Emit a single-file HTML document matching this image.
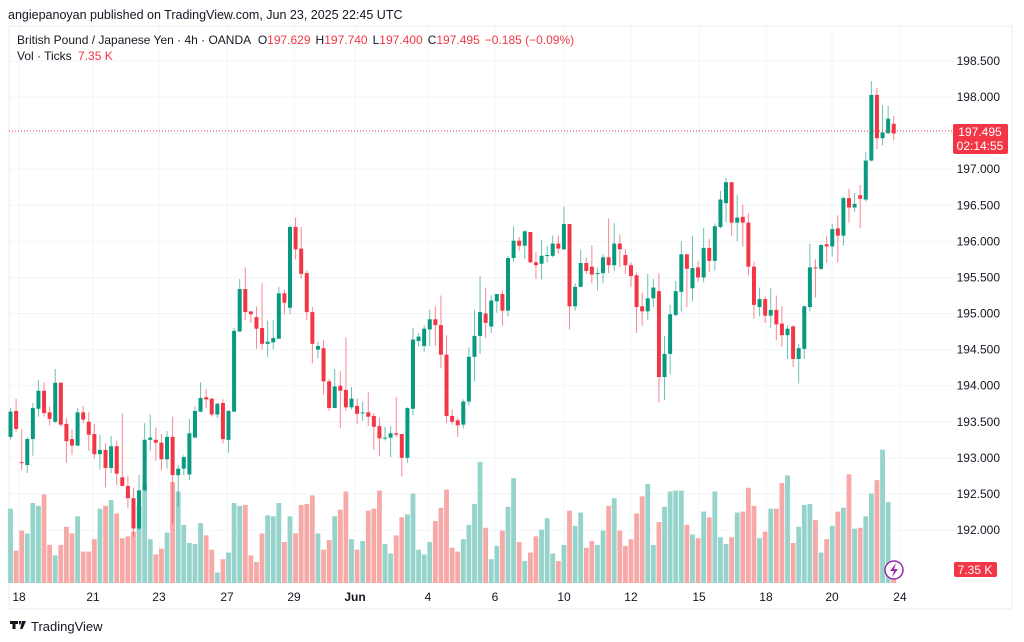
<!DOCTYPE html>
<html><head><meta charset="utf-8"><style>
html,body{margin:0;padding:0;background:#fff;width:1024px;height:642px;overflow:hidden;font-family:"Liberation Sans",sans-serif;}
svg text{font-family:"Liberation Sans",sans-serif;}
</style></head><body>
<svg id="c" width="1024" height="642" xmlns="http://www.w3.org/2000/svg">
<text x="8" y="19" font-size="12.5" fill="#131722">angiepanoyan published on TradingView.com, Jun 23, 2025 22:45 UTC</text>
<rect x="9" y="26" width="1003" height="583" fill="none" stroke="#e9ecf2"/>
<g id="grid"></g>
<g id="vols"></g>
<g id="candles"></g>
<line x1="9" y1="131" x2="953" y2="131" stroke="#f23645" stroke-dasharray="1,2"/>
<g id="paxis"></g>
<g id="taxis"></g>
<text x="17" y="44" font-size="12" fill="#131722">British Pound / Japanese Yen · 4h · OANDA <tspan dx="4">O</tspan><tspan fill="#f23645">197.629</tspan><tspan dx="5">H</tspan><tspan fill="#f23645">197.740</tspan><tspan dx="5">L</tspan><tspan fill="#f23645">197.400</tspan><tspan dx="5">C</tspan><tspan fill="#f23645">197.495</tspan><tspan dx="5" fill="#f23645">−0.185 (−0.09%)</tspan></text>
<text x="17" y="60" font-size="12" fill="#131722">Vol · Ticks <tspan dx="3" fill="#f23645">7.35 K</tspan></text>
<rect x="953" y="124" width="55" height="30" rx="2" fill="#f23645"/>
<text x="980" y="136" font-size="12" fill="#fff" text-anchor="middle">197.495</text>
<text x="980" y="150" font-size="12" fill="#fff" text-anchor="middle">02:14:55</text>
<rect x="954" y="562" width="43" height="15" rx="2" fill="#f23645"/>
<text x="975" y="574" font-size="12" fill="#fff" text-anchor="middle">7.35 K</text>
<g><circle cx="894" cy="570" r="9" fill="#fff" stroke="#9c27b0" stroke-width="1.5"/><path d="M896 563 L890 571 L894 571 L892 577 L898 569 L894 569 Z" fill="#9c27b0"/></g>
<g><path d="M10 621h8v3h-2.5v5h-3v-5H10z M19 621h2.5l-1.2 3.5h-1.3z M22 621h4l-3.5 8h-2.5z" fill="#131722"/><text x="31" y="631" font-size="13" fill="#131722">TradingView</text></g>
</svg>
<script>
const opens=[193.29,193.65,192.94,192.90,193.26,193.68,193.93,193.63,193.50,194.04,193.47,193.26,193.17,193.63,193.50,193.33,193.05,193.11,192.86,193.16,192.73,192.61,192.44,192.02,192.55,193.25,193.25,193.21,192.98,193.29,192.76,192.85,192.77,193.28,193.64,193.84,193.82,193.60,193.76,193.25,193.64,194.75,195.34,195.03,194.95,194.80,194.58,194.60,194.65,195.28,195.08,196.20,195.90,195.56,195.02,194.50,194.52,194.06,193.69,194.00,193.94,193.70,193.72,193.62,193.63,193.58,193.44,193.27,193.28,193.34,193.33,193.00,193.68,194.62,194.55,194.78,194.92,194.84,194.43,193.58,193.52,193.46,193.78,194.40,194.69,195.00,194.82,195.17,195.27,195.04,195.77,196.01,195.94,196.13,195.71,195.69,195.80,195.80,195.97,195.89,196.24,195.10,195.37,195.70,195.65,195.55,195.56,195.78,195.67,195.97,195.81,195.67,195.53,195.10,195.03,195.21,195.31,194.12,194.44,194.98,195.30,195.82,195.35,195.64,195.50,195.91,195.73,196.20,196.53,196.82,196.26,196.34,196.26,195.65,195.09,195.20,194.97,195.05,194.86,194.70,194.82,194.37,194.51,195.09,195.64,195.62,195.96,195.93,196.18,196.08,196.60,196.47,196.64,196.58,197.12,198.03,197.43,197.50,197.63];
const highs=[193.69,193.82,193.39,193.29,193.76,194.08,194.05,193.71,194.23,194.05,193.55,193.39,193.69,193.72,193.63,193.47,193.32,193.20,193.30,193.24,193.61,192.75,192.58,192.76,193.48,193.60,193.42,193.33,193.37,193.57,192.90,193.04,193.54,193.71,194.05,193.95,193.83,193.76,193.81,193.66,194.80,195.48,195.64,195.03,195.10,195.42,194.90,194.91,195.37,195.33,196.22,196.33,196.20,195.60,195.09,194.61,194.63,194.09,194.23,194.20,194.67,193.98,193.82,193.78,193.91,193.62,193.56,193.43,193.44,193.84,193.33,193.70,194.80,194.73,194.84,195.05,195.10,195.25,194.70,193.67,193.55,193.81,194.53,195.05,195.52,195.36,195.25,195.27,195.32,195.80,196.21,196.06,196.15,196.13,195.85,196.02,195.94,196.08,196.08,196.48,196.24,195.42,195.88,195.78,195.95,195.64,195.82,196.32,196.25,196.10,195.89,195.71,195.57,195.29,195.55,195.48,195.56,194.69,195.12,195.45,196.00,195.83,196.08,195.73,196.19,196.03,196.25,196.70,196.88,196.82,196.64,196.51,196.39,195.72,195.36,195.24,195.35,195.25,195.10,194.84,194.84,194.58,195.11,195.97,195.75,195.96,196.08,196.24,196.36,196.62,196.73,196.67,196.78,197.24,198.22,198.13,197.89,197.88,197.74];
const lows=[193.25,193.36,192.83,192.79,193.03,193.57,193.57,193.45,193.48,193.43,192.93,193.04,193.16,193.48,193.10,192.99,192.84,192.59,192.79,192.62,192.61,192.30,191.91,192.00,192.53,193.10,192.96,192.83,192.85,192.08,192.32,192.76,192.69,193.28,193.63,193.69,193.57,193.55,193.20,193.07,193.64,194.75,194.91,194.87,194.51,194.50,194.40,194.50,194.65,194.99,194.99,195.75,195.48,194.91,194.31,194.38,193.88,193.65,193.69,193.41,193.65,193.67,193.47,193.51,193.44,193.11,193.02,193.24,193.01,193.29,192.74,192.93,193.59,194.54,194.47,194.55,194.55,194.24,193.49,193.46,193.29,193.41,193.73,194.06,194.44,194.66,194.73,195.01,194.83,194.96,195.71,195.87,195.76,195.70,195.48,195.47,195.71,195.78,195.83,195.88,194.78,195.04,195.37,195.55,195.42,195.32,195.42,195.56,195.59,195.64,195.55,195.37,194.73,194.83,194.91,195.09,193.77,193.80,194.16,194.96,195.03,195.09,195.17,195.44,195.43,195.58,195.60,196.18,196.26,196.08,196.00,195.93,195.53,194.93,194.96,194.87,194.80,194.63,194.54,194.37,194.26,194.03,194.37,195.03,195.22,195.60,195.70,195.79,195.71,195.94,196.26,196.41,196.18,196.55,197.11,197.28,197.33,197.49,197.40];
const closes=[193.64,193.40,192.93,193.26,193.69,193.93,193.62,193.54,194.04,193.46,193.23,193.17,193.63,193.53,193.32,193.05,193.11,192.86,193.16,192.78,192.61,192.44,192.02,192.55,193.25,193.28,193.21,192.98,193.29,192.76,192.85,193.01,193.34,193.65,193.83,193.81,193.60,193.75,193.26,193.65,194.76,195.34,195.02,194.99,194.79,194.58,194.61,194.66,195.28,195.15,196.20,195.89,195.55,195.02,194.58,194.55,194.06,193.69,193.99,193.93,193.70,193.82,193.61,193.63,193.57,193.43,193.27,193.28,193.34,193.32,193.00,193.69,194.64,194.68,194.79,194.92,194.84,194.43,193.58,193.50,193.45,193.78,194.40,194.69,195.02,194.87,195.18,195.27,195.04,195.77,196.01,195.94,196.14,195.71,195.67,195.80,195.81,195.97,195.90,196.24,195.10,195.37,195.70,195.59,195.54,195.56,195.78,195.67,195.97,195.89,195.67,195.52,195.09,195.03,195.21,195.36,194.12,194.44,194.99,195.31,195.82,195.62,195.63,195.50,195.91,195.73,196.21,196.58,196.82,196.26,196.33,196.26,195.65,195.12,195.20,194.97,195.05,194.85,194.70,194.79,194.37,194.52,195.10,195.64,195.63,195.95,195.93,196.17,196.08,196.60,196.47,196.52,196.59,197.12,198.03,197.43,197.51,197.70,197.495];
const volumeK=[39,17,27.5,26,42,40.5,46.5,20,14.5,20,29.5,26,35,16.5,16.5,23,39,40.5,43.5,36.5,23.5,24.5,27,40.5,51.5,23,15,18,26.5,53,48,30.5,21,20.5,31.5,25,17.5,5.5,12.5,16,42,40.5,41,14.5,11,26,35.5,35,42,21.5,35,26,41,41.5,46,26,17.5,22.5,35,38.5,48,23,17.5,22,38,39,48.5,20.5,15.5,25,34.5,36,47,17.5,15,21.5,32.5,39.5,49,18.5,16.5,23,30.5,41.5,63.5,29,12.5,19.5,27.5,40,55,21.5,11.5,16,24.5,28,34,15.5,11.5,20,38,30,37,18.5,22,20,27.5,40.5,44.5,27.5,19.5,23,36.5,45.5,52,20,32,40,48,48.5,48.5,30.5,25.5,23.5,37.5,34.5,48,24,20.5,24,37,37.5,50,40.5,23.5,27,39,39,52.5,56.5,21,29.5,41,41.5,33,16,23,30,37.5,39.5,57,28.5,29,35,47,54,70,42.5,7.35];
const priceTicks=[198.5,198,197.5,197,196.5,196,195.5,195,194.5,194,193.5,193,192.5,192];
const timeLabels=["18","21","23","27","29","Jun","4","6","10","12","15","18","20","24"];
const timeLabelIdx=[1.52,14.76,26.56,38.73,50.72,61.63,74.69,86.67,99.02,111,123.17,135.15,146.96,159.12];

const NS="http://www.w3.org/2000/svg";
const X0=10.5, DX=5.59, PY0=61, PTOP=198.5, PPX=72.15, VBASE=583, VPX=1.905;
function xAt(i){return X0+i*DX;}
function yAt(p){return PY0+(PTOP-p)*PPX;}
function vH(v){return v*VPX;}
function mk(tag,attrs,parent){const e=document.createElementNS(NS,tag);for(const k in attrs)e.setAttribute(k,attrs[k]);parent.appendChild(e);return e;}
const grid=document.getElementById('grid'),vols=document.getElementById('vols'),cg=document.getElementById('candles'),pa=document.getElementById('paxis'),ta=document.getElementById('taxis');
priceTicks.forEach(p=>{
  const y=yAt(p);
  const l=mk('line',{x1:9,x2:953,y1:y,y2:y,stroke:'#f2f4f8'},grid);
  
  
  const t=mk('text',{x:1000,y:y+4,'font-size':12,fill:'#131722','text-anchor':'end'},pa);
  t.textContent=p.toFixed(3);
  
  
});
timeLabels.forEach((s,k)=>{
  const x=xAt(timeLabelIdx[k]);
  const l=mk('line',{x1:x,x2:x,y1:26,y2:583,stroke:'#f2f4f8'},grid);
  
  
  const t=mk('text',{x:x,y:601,'font-size':12,fill:'#131722','text-anchor':'middle','font-weight':s==='Jun'?'bold':'normal'},ta);
  t.textContent=s;
  
  
});
opens.forEach((o,i)=>{
  const c=closes[i],up=c>=o,x=xAt(i);
  const vh=vH(volumeK[i]);
  const vb=mk('rect',{x:x-2.4,y:VBASE-vh,width:4.8,height:vh,fill:up?'#95d3cb':'#f7a9a8'},vols);
  
  
  const col=up?'#089981':'#f23645';
  const w=mk('line',{x1:x,x2:x,y1:yAt(highs[i]),y2:yAt(lows[i]),stroke:col,'stroke-width':1,opacity:0.6},cg);
  
  
  const yt=yAt(Math.max(o,c)),yb=yAt(Math.min(o,c));
  const b=mk('rect',{x:x-2,y:yt,width:4,height:Math.max(1,yb-yt),fill:col},cg);
  
  
});
</script>
</body></html>
